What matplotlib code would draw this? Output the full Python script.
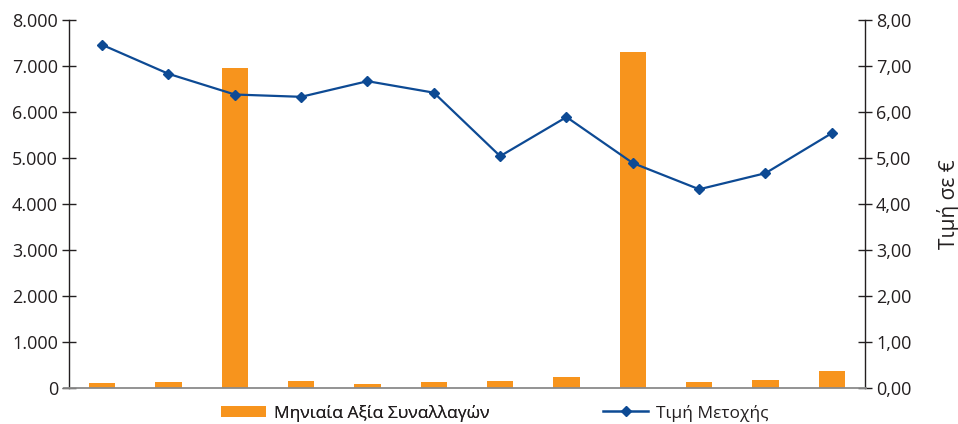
import matplotlib
matplotlib.use("Agg")
import matplotlib.pyplot as plt
from matplotlib.ticker import FuncFormatter, MultipleLocator
from matplotlib.patches import Patch
from matplotlib.lines import Line2D

months = list(range(1, 13))
trade_value = [110, 130, 6960, 150, 90, 130, 150, 240, 7300, 130, 175, 370]
share_price = [7.46, 6.83, 6.38, 6.33, 6.67, 6.42, 5.04, 5.89, 4.89, 4.32, 4.67, 5.54]
bar_label = "Μηνιαία Αξία Συναλλαγών"
line_label = "Τιμή Μετοχής"
right_ylabel = "Τιμή σε €"

plt.rcParams['font.family'] = ['Open Sans', 'DejaVu Sans']
ORANGE = '#F7941D'
BLUE = '#0D4A94'
TXT = '#231F20'

fig = plt.figure(figsize=(9.58, 4.24), dpi=100)
ax = fig.add_axes([69/958, 1-388/424, (865-69)/958, (388-20)/424])
x = list(range(len(months)))
ax.bar(x, trade_value, width=0.4, color=ORANGE, zorder=2)
ax.set_xlim(-0.5, len(months)-0.5)
ax.set_ylim(0, 8000)
ax.yaxis.set_major_locator(MultipleLocator(1000))
ax.yaxis.set_major_formatter(FuncFormatter(lambda v, p: f"{int(v):,}".replace(",", ".")))
ax.set_xticks([])
for s in ['top', 'right', 'bottom']:
    ax.spines[s].set_visible(False)
ax.spines['left'].set_color(TXT)
ax.spines['left'].set_linewidth(1.0)
ax.tick_params(axis='y', direction='inout', length=10, width=1.0, color=TXT,
               labelsize=13, labelcolor=TXT, pad=3)

# baseline extending slightly past the left spine
fig.add_artist(Line2D([64/958, 866/958], [1-388/424, 1-388/424], color='#8a8a8a', lw=1.3,
                      transform=fig.transFigure, zorder=1))

ax2 = ax.twinx()
ax2.plot(x, share_price, color=BLUE, lw=1.6, marker='D', markersize=5, zorder=3)
ax2.set_ylim(0, 8)
ax2.yaxis.set_major_locator(MultipleLocator(1))
ax2.yaxis.set_major_formatter(FuncFormatter(lambda v, p: f"{v:.2f}".replace(".", ",")))
for s in ['top', 'left', 'bottom']:
    ax2.spines[s].set_visible(False)
ax2.spines['right'].set_color(TXT)
ax2.spines['right'].set_linewidth(1.0)
ax2.tick_params(axis='y', direction='inout', length=10, width=1.0, color=TXT,
                labelsize=13, labelcolor=TXT, pad=3)
ax2.set_ylabel(right_ylabel, fontsize=15, color=TXT, labelpad=18)

h1 = [Patch(facecolor=ORANGE, edgecolor='none')]
leg1 = fig.legend(h1, [bar_label], loc='center left', bbox_to_anchor=(214/958, 1-413/424),
                  frameon=False, fontsize=12.5, handlelength=2.6, handleheight=0.55,
                  handletextpad=0.45, borderaxespad=0)
h2 = [Line2D([0], [0], color=BLUE, lw=1.8, marker='D', markersize=5)]
leg2 = fig.legend(h2, [line_label], loc='center left', bbox_to_anchor=(596/958, 1-413/424),
                  frameon=False, fontsize=12.5, handlelength=2.6,
                  handletextpad=0.45, borderaxespad=0)
fig.add_artist(leg1)
for t in leg1.get_texts() + leg2.get_texts():
    t.set_color(TXT)

fig.savefig('out.png', dpi=100)
